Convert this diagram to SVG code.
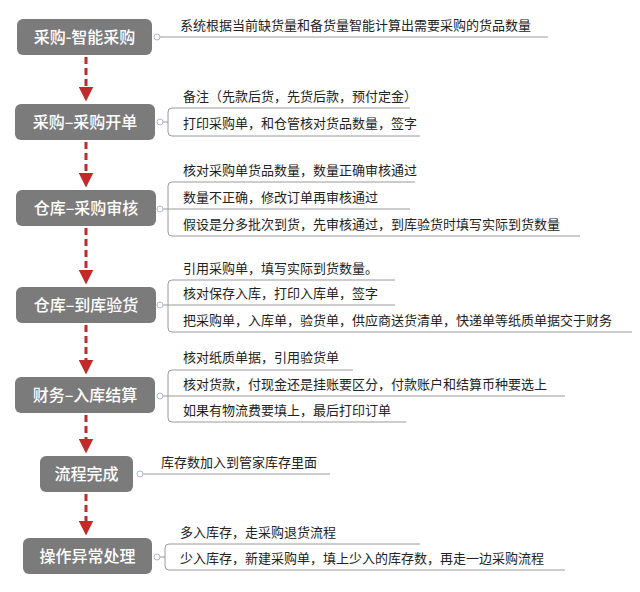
<svg xmlns="http://www.w3.org/2000/svg" width="640" height="592" viewBox="0 0 640 592">
<style>
.n rect{fill:#7b7b7b}
.n text{fill:#fff;font-family:"Noto Sans CJK SC",sans-serif;font-size:16px;font-weight:500;text-anchor:middle}
.t{font-family:"Noto Sans CJK SC",sans-serif;font-size:13px;fill:#222}
.l{fill:none;stroke:#9a9a9a;stroke-width:1}
.c{fill:#fff;stroke:#a9b5d6;stroke-width:1}
.a{stroke:#c22a2a;stroke-width:3;stroke-dasharray:7,4;fill:none}
</style>
<defs><marker id="ar" markerWidth="5" markerHeight="5" refX="2.5" refY="2.5" orient="auto" markerUnits="strokeWidth"><path d="M0,0 L5,2.5 L0,5 z" fill="#c22a2a"/></marker></defs>
<rect width="640" height="592" fill="#fff"/>
<g id="connectors">
<path class="a" d="M86,57 V94" marker-end="url(#ar)"/>
<path class="a" d="M86,142 V180" marker-end="url(#ar)"/>
<path class="a" d="M86,228 V277" marker-end="url(#ar)"/>
<path class="a" d="M86,325 V367" marker-end="url(#ar)"/>
<path class="a" d="M86,415 V446" marker-end="url(#ar)"/>
<path class="a" d="M86,494 V528" marker-end="url(#ar)"/>
</g>
<g id="n1" class="n"><rect x="17" y="19" width="135" height="36" rx="6"/><text x="84.5" y="42.5">采购-智能采购</text></g>
<g id="d1"><path class="l" d="M160,37 H548"/><circle class="c" cx="157" cy="37" r="3"/><text class="t" x="180" y="30">系统根据当前缺货量和备货量智能计算出需要采购的货品数量</text></g>
<g id="n2" class="n"><rect x="15" y="104" width="140" height="36" rx="6"/><text x="85" y="127.5">采购–采购开单</text></g>
<g id="d2"><path class="l" d="M160,122 H168 M410,108 H172 Q168,108 168,112 V132 Q168,136 172,136 H420"/><circle class="c" cx="160" cy="122" r="3"/><text class="t" x="183" y="101">备注（先款后货，先货后款，预付定金）</text><text class="t" x="183" y="128">打印采购单，和仓管核对货品数量，签字</text></g>
<g id="n3" class="n"><rect x="16" y="190" width="140" height="36" rx="6"/><text x="86" y="213.5">仓库–采购审核</text></g>
<g id="d3"><path class="l" d="M160,209 H168 M415,182 H172 Q168,182 168,186 V232 Q168,236 172,236 H580 M168,209 H410"/><circle class="c" cx="160" cy="209" r="3"/><text class="t" x="183" y="175">核对采购单货品数量，数量正确审核通过</text><text class="t" x="183" y="202">数量不正确，修改订单再审核通过</text><text class="t" x="183" y="229">假设是分多批次到货，先审核通过，到库验货时填写实际到货数量</text></g>
<g id="n4" class="n"><rect x="16" y="287" width="140" height="36" rx="6"/><text x="86" y="310.5">仓库–到库验货</text></g>
<g id="d4"><path class="l" d="M160,305 H168 M395,280 H172 Q168,280 168,284 V328 Q168,332 172,332 H632 M168,305 H395"/><circle class="c" cx="160" cy="305" r="3"/><text class="t" x="183" y="273">引用采购单，填写实际到货数量。</text><text class="t" x="183" y="298">核对保存入库，打印入库单，签字</text><text class="t" x="183" y="325">把采购单，入库单，验货单，供应商送货清单，快递单等纸质单据交于财务</text></g>
<g id="n5" class="n"><rect x="15" y="377" width="140" height="36" rx="6"/><text x="85" y="400.5">财务–入库结算</text></g>
<g id="d5"><path class="l" d="M160,396 H168 M353,370 H172 Q168,370 168,374 V418 Q168,422 172,422 H406 M168,396 H565"/><circle class="c" cx="160" cy="396" r="3"/><text class="t" x="183" y="362">核对纸质单据，引用验货单</text><text class="t" x="183" y="389">核对货款，付现金还是挂账要区分，付款账户和结算币种要选上</text><text class="t" x="183" y="415">如果有物流费要填上，最后打印订单</text></g>
<g id="n6" class="n"><rect x="40" y="456" width="93" height="36" rx="6"/><text x="86.5" y="479.5">流程完成</text></g>
<g id="d6"><path class="l" d="M143,474 H330"/><circle class="c" cx="140" cy="474" r="3"/><text class="t" x="161" y="467">库存数加入到管家库存里面</text></g>
<g id="n7" class="n"><rect x="23" y="538" width="129" height="36" rx="6"/><text x="87.5" y="561.5">操作异常处理</text></g>
<g id="d7"><path class="l" d="M160,557 H165 M420,544 H169 Q165,544 165,548 V566 Q165,570 169,570 H565"/><circle class="c" cx="157" cy="557" r="3"/><text class="t" x="180" y="537">多入库存，走采购退货流程</text><text class="t" x="180" y="563">少入库存，新建采购单，填上少入的库存数，再走一边采购流程</text></g>
</svg>
